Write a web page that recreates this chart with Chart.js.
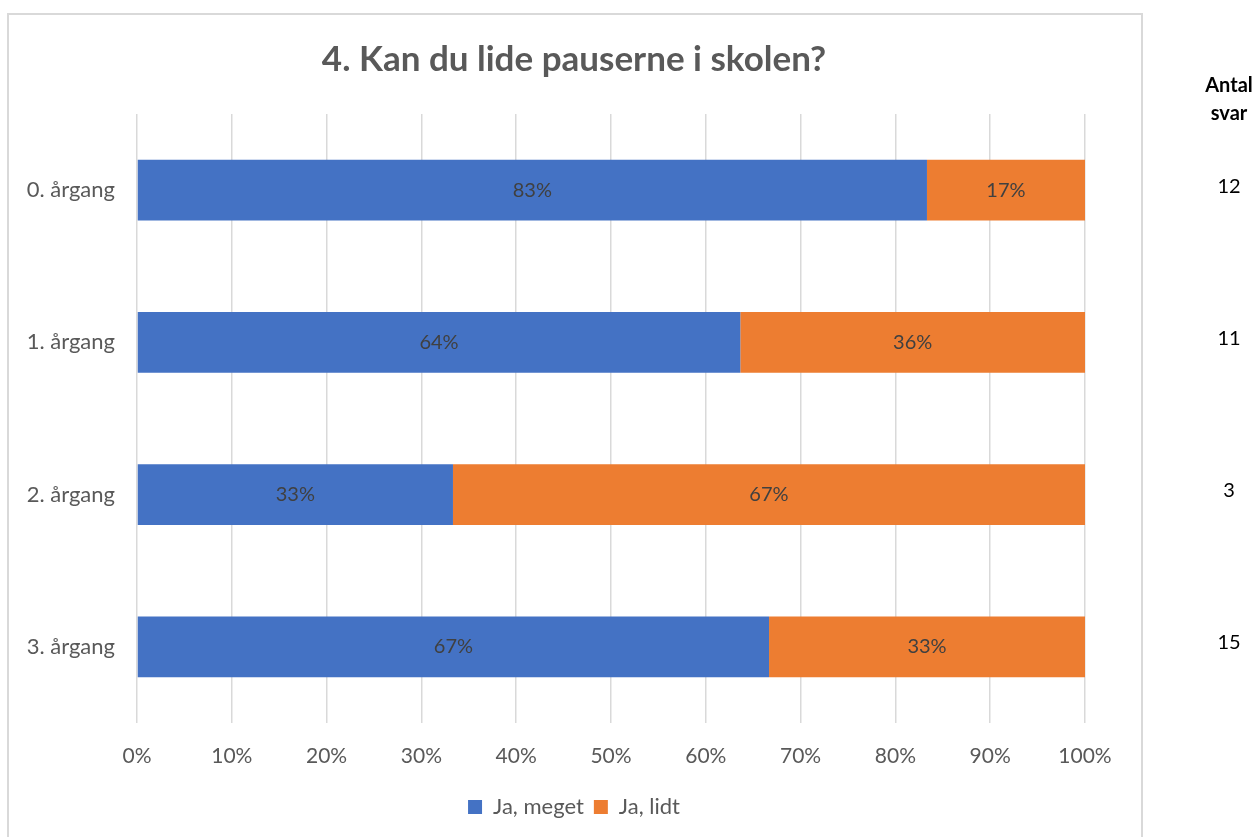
<!DOCTYPE html>
<html>
<head>
<meta charset="utf-8">
<script src="https://cdn.jsdelivr.net/npm/chart.js@4.4.1/dist/chart.umd.min.js"></script>
<style>
  body { margin: 0; background: #fff; }
  #frame { position: absolute; left: 7px; top: 13px; width: 1132px; height: 840px; border: 2px solid #d9d9d9; border-bottom: none; }
  #wrap { position: absolute; left: 0; top: 0; }
</style>
</head>
<body>
<div id="frame"></div>
<div id="wrap"><canvas id="pauserChart" width="1259" height="837"></canvas></div>
<script>
var categories = ["0. årgang", "1. årgang", "2. årgang", "3. årgang"];
var jaMeget = [83.33, 63.64, 33.33, 66.67];
var jaLidt = [16.67, 36.36, 66.67, 33.33];
var antalSvar = [12, 11, 3, 15];
var xTicks = [0, 10, 20, 30, 40, 50, 60, 70, 80, 90, 100];

var fontName = "Lato";

// percent labels in the middle of each bar piece
var segmentLabels = {
    id: 'segmentLabels',
    afterDatasetsDraw: function (chart) {
        var ctx = chart.ctx;
        ctx.save();
        ctx.font = "20px " + fontName;
        ctx.fillStyle = "#404040";
        ctx.textAlign = "center";
        ctx.textBaseline = "middle";
        chart.data.datasets.forEach(function (ds, di) {
            var meta = chart.getDatasetMeta(di);
            meta.data.forEach(function (bar, i) {
                var mid = (bar.x + bar.base) / 2;
                ctx.fillText(Math.round(ds.data[i]) + "%", mid, bar.y);
            });
        });
        ctx.restore();
    }
};

// "Antal svar" column on the right
var countColumn = {
    id: 'countColumn',
    afterDraw: function (chart) {
        var ctx = chart.ctx;
        var yScale = chart.scales.y;
        var x = 1229;
        ctx.save();
        ctx.fillStyle = "#000";
        ctx.textAlign = "center";
        ctx.textBaseline = "middle";
        ctx.font = "bold 20px " + fontName;
        ctx.fillText("Antal", x, 86);
        ctx.fillText("svar", x, 114);
        ctx.font = "20px " + fontName;
        for (var i = 0; i < antalSvar.length; i++) {
            ctx.fillText(antalSvar[i], x, yScale.getPixelForValue(i) - 4);
        }
        ctx.restore();
    }
};

var pauserChart = new Chart("pauserChart", {
    type: "bar",
    data: {
        labels: categories,
        datasets: [
            {
                label: "Ja, meget",
                data: jaMeget,
                backgroundColor: "#4472C4",
                barPercentage: 0.4,
                categoryPercentage: 1
            },
            {
                label: "Ja, lidt",
                data: jaLidt,
                backgroundColor: "#ED7D31",
                barPercentage: 0.4,
                categoryPercentage: 1
            }]
    },
    options: {
        indexAxis: 'y',
        responsive: false,
        animation: false,
        layout: {
            padding: { left: 7, right: 118, top: 0, bottom: 9 }
        },
        plugins: {
            tooltip: { enabled: false },
            legend: {
                position: 'bottom',
                labels: {
                    boxWidth: 14,
                    boxHeight: 14,
                    padding: 10,
                    color: '#595959',
                    font: { size: 22, family: fontName }
                }
            },
            title: {
                display: true,
                text: "4. Kan du lide pauserne i skolen?",
                color: '#595959',
                padding: { top: 39, bottom: 33 },
                font: { size: 35, weight: 'bold', family: fontName }
            }
        },
        scales: {
            x: {
                stacked: true,
                min: 0,
                max: 100,
                afterBuildTicks: function (scale) {
                    scale.ticks = xTicks.map(function (v) { return { value: v }; });
                },
                afterFit: function (scale) { scale.height = 63; },
                grid: { color: '#d9d9d9', lineWidth: 1.5, drawTicks: false },
                border: { display: false },
                ticks: {
                    padding: 21,
                    color: '#595959',
                    font: { size: 21, family: fontName },
                    callback: function (v) { return v + "%"; }
                }
            },
            y: {
                stacked: true,
                afterFit: function (scale) { scale.width = 130; },
                grid: { display: false, drawTicks: false },
                border: { display: false },
                ticks: {
                    padding: 22,
                    color: '#595959',
                    font: { size: 22, family: fontName }
                }
            },
            // empty strip between the plot and the right edge of the frame
            gutter: {
                type: 'linear',
                position: 'right',
                afterFit: function (scale) { scale.width = 56; },
                grid: { display: false, drawTicks: false },
                border: { display: false },
                ticks: { display: false }
            }
        }
    },
    plugins: [segmentLabels, countColumn]
});
</script>
</body>
</html>
